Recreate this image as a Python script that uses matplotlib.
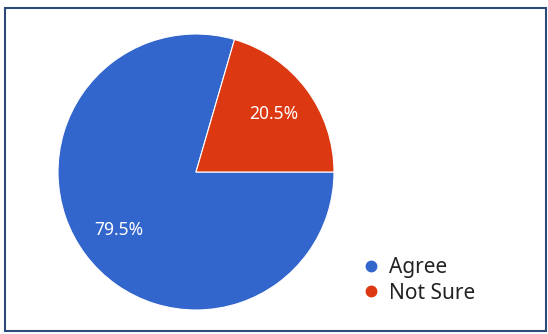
import matplotlib
matplotlib.use("Agg")
import matplotlib.pyplot as plt
from matplotlib.lines import Line2D
from matplotlib.patches import Rectangle

categories = ["Agree", "Not Sure"]
values = [79.5, 20.5]
colors = ["#3366CC", "#DC3912"]

plt.rcParams['font.family'] = ['Noto Sans', 'DejaVu Sans']

W, H = 548, 334
fig = plt.figure(figsize=(W / 100, H / 100), dpi=100)
fig.patch.set_facecolor("white")

# border frame
fig.add_artist(Rectangle((5 / W, 3 / H), 541 / W, 323 / H, transform=fig.transFigure,
                         fill=False, edgecolor="#2e4a7a", linewidth=1.5))

cx, cy, r = 196, 172, 138
ax = fig.add_axes([(cx - r) / W, (H - cy - r) / H, 2 * r / W, 2 * r / H])
start = 360 * values[1] / 100
wedges, texts, autotexts = ax.pie(
    values, colors=colors, startangle=start, counterclock=True,
    autopct=lambda p: f"{p:.1f}%", pctdistance=0.70,
    wedgeprops=dict(edgecolor="white", linewidth=0.8),
    textprops=dict(color="white", fontsize=12.5))
ax.set_xlim(-1, 1)
ax.set_ylim(-1, 1)
ax.set_aspect("equal")
ax.axis("off")

handles = [Line2D([], [], marker="o", linestyle="none", markersize=7.5,
                  markerfacecolor=c, markeredgecolor=c) for c in colors]
fig.legend(handles, categories, loc="upper left",
           bbox_to_anchor=(362.7 / W, 1 - 257 / H), frameon=False,
           fontsize=15, handletextpad=0.47, labelspacing=0.22,
           handlelength=0.8, borderaxespad=0, borderpad=0,
           labelcolor="#222222")

fig.savefig("out.png", dpi=100)
